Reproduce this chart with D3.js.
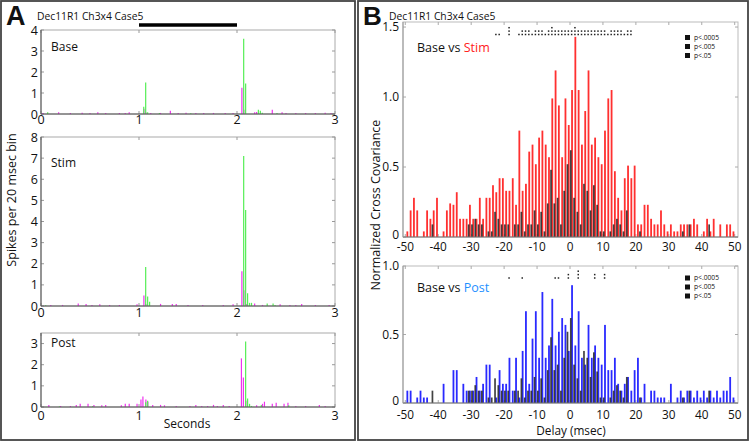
<!DOCTYPE html>
<html><head><meta charset="utf-8">
<script src="https://cdn.jsdelivr.net/npm/d3@7/dist/d3.min.js"></script>
<style>
body{margin:0;background:#fff}
svg{display:block}
text{font-family:"Open Sans",sans-serif;fill:#111}
</style>
</head><body>
<svg id="c" width="750" height="442"></svg>
<script>
// ---------------- DATA ----------------
const figTitle = "Dec11R1 Ch3x4 Case5";
const secTicks = [0, 1, 2, 3];
const stimPeriod = [1, 2];

// Panel A: spikes per 20 ms bin, [time (s), value]
const baseGreen = [[0.06,0.08],[1.04,0.35],[1.06,1.5],[1.08,0.08],[1.2,0.05],[1.52,0.04],[2.06,3.58],[2.08,1.45],[2.21,0.2],[2.23,0.15],[2.25,0.06],[2.4,0.05]];
const baseMagenta = [[0.02,0.05],[0.18,0.08],[0.3,0.05],[0.42,0.06],[0.5,0.05],[0.58,0.08],[0.66,0.05],[0.8,0.05],[0.86,0.05],[0.9,0.08],[1.05,0.25],[1.07,0.08],[1.12,0.05],[1.22,0.05],[1.32,0.15],[1.4,0.05],[1.48,0.06],[1.58,0.05],[1.66,0.05],[1.76,0.05],[1.88,0.05],[1.96,0.05],[2.05,1.25],[2.07,0.2],[2.18,0.08],[2.2,0.1],[2.36,0.2],[2.46,0.08],[2.5,0.05],[2.6,0.05],[2.7,0.05],[2.8,0.05],[2.9,0.06],[2.96,0.05]];
const stimGreen = [[0.04,0.04],[1.06,1.85],[1.08,0.45],[1.1,0.2],[2.06,7.1],[2.08,4.55],[2.1,0.6],[2.12,0.15],[2.14,0.15],[2.3,0.12],[2.36,0.12],[2.38,0.05]];
const stimMagenta = [[0.1,0.05],[0.22,0.05],[0.38,0.12],[0.46,0.1],[0.52,0.05],[0.6,0.08],[0.7,0.05],[0.8,0.05],[0.98,0.08],[1.05,0.5],[1.07,0.1],[1.22,0.1],[1.34,0.1],[1.38,0.1],[1.5,0.05],[1.65,0.05],[1.86,0.05],[1.96,0.08],[2.05,1.65],[2.07,0.75],[2.1,0.1],[2.18,0.12],[2.26,0.05],[2.44,0.08],[2.54,0.05],[2.6,0.05],[2.66,0.1],[2.8,0.05],[2.94,0.05]];
const postGreen = [[0.18,0.03],[0.52,0.05],[1.06,0.22],[1.08,0.3],[2.08,3.1],[2.1,0.4],[2.12,0.15],[2.14,0.05],[2.24,0.1],[2.52,0.08]];
const postMagenta = [[0.08,0.1],[0.2,0.05],[0.3,0.05],[0.36,0.1],[0.4,0.15],[0.48,0.15],[0.54,0.1],[0.62,0.08],[0.66,0.1],[0.82,0.08],[0.86,0.15],[0.9,0.15],[0.98,0.15],[1.02,0.35],[1.04,0.5],[1.07,0.35],[1.09,0.25],[1.14,0.1],[1.22,0.1],[1.26,0.08],[1.38,0.05],[1.52,0.05],[1.58,0.1],[1.64,0.05],[1.7,0.05],[1.76,0.1],[1.8,0.05],[1.86,0.1],[1.92,0.05],[2.045,2.3],[2.065,1.4],[2.09,0.3],[2.2,0.08],[2.26,0.15],[2.28,0.25],[2.36,0.15],[2.4,0.2],[2.48,0.15],[2.52,0.2],[2.6,0.05],[2.7,0.05],[2.84,0.1],[2.9,0.05]];

// Panel B: normalized cross covariance, delays -49.5 .. 49.5 msec
const delays = d3.range(-49.5, 50, 1);
const delayTicks = [-50,-40,-30,-20,-10,0,10,20,30,40,50];
const stimCov = [0.04,0.19,0.28,0.19,0,0.04,0.19,0.13,0.19,0.28,
  0,0.04,0.19,0.24,0.23,0.32,0.13,0.13,0.13,0.23,
  0.13,0.13,0.28,0.13,0.28,0.28,0.37,0.32,0.42,0.42,
  0.33,0.33,0.42,0.23,0.76,0.33,0.38,0.61,0.66,0.52,
  0.71,0.76,0.66,0.57,0.99,1.19,0.94,0.57,0.99,0.80,
  1.05,1.43,1.05,0.66,0.90,1.19,0.66,0.71,0.57,0.52,
  0.76,0.99,1.05,0.47,0.28,0.19,0.42,0.51,0.42,0.51,
  0.09,0.09,0.23,0.23,0.13,0.09,0.09,0.19,0.09,0.04,
  0.09,0.04,0.04,0.09,0.09,0.09,0.09,0.13,0.09,0,
  0.04,0.13,0.04,0.13,0,0.09,0,0.09,0.09,0.04];
const postCov = [0.09,0.09,0,0.04,0.09,0.04,0.04,0,0,0,
  0,0.14,0,0,0.24,0.24,0,0.14,0.09,0.09,
  0.09,0.19,0.09,0.14,0.28,0.28,0,0.04,0.24,0.14,
  0.14,0.33,0.09,0.33,0.04,0.38,0.67,0.14,0.47,0.67,
  0.33,0.81,0.33,0.42,0.76,0.42,0.52,0.62,0.57,0.38,
  0.86,0.42,0.67,0.33,0.28,0.57,0.33,0.42,0.33,0.28,
  0.57,0.24,0.24,0.33,0.14,0.09,0.14,0.19,0.09,0.24,
  0.33,0.04,0.14,0,0.09,0.09,0.04,0.04,0.04,0,
  0.14,0,0.04,0.09,0.04,0.09,0.09,0.04,0.09,0.04,
  0.09,0.04,0.09,0.04,0.09,0.04,0.09,0.09,0.19,0.04];
const baseCov = [0,0,0,0,0,0,0,0,0.09,0,
  0,0,0,0,0,0,0,0,0,0.09,
  0.09,0.13,0.09,0.09,0,0.04,0.04,0.18,0.13,0.09,
  0.09,0.09,0,0.09,0.09,0.18,0.04,0.09,0.09,0.19,
  0.09,0.18,0.04,0.24,0.48,0.24,0.28,0.09,0.33,0.52,
  0.62,0.28,0.18,0.09,0.38,0.33,0.19,0.37,0.23,0.04,
  0.04,0,0.04,0.09,0.13,0.09,0.04,0.19,0,0,
  0,0.04,0,0,0,0,0,0,0,0,
  0,0,0,0,0.04,0,0.09,0,0,0,
  0,0,0.09,0,0,0,0,0,0,0];
// significance marks [delay, number of dots]
const sigStim = [[-22.5,1],[-21.5,1],[-18.5,3],[-15.5,1],[-14.5,2],[-13.5,2],[-12.5,2],[-11.5,1],[-10.5,2],[-9.5,2],[-8.5,2],[-7.5,1],[-6.5,2],[-5.5,3],[-4.5,2],[-3.5,2],[-2.5,2],[-1.5,2],[-0.5,2],[0.5,2],[1.5,3],[2.5,2],[3.5,2],[4.5,2],[5.5,2],[6.5,2],[7.5,2],[8.5,2],[9.5,2],[10.5,2],[11.5,1],[12.5,2],[13.5,2],[14.5,2],[15.5,2],[16.5,1],[17.5,2],[18.5,2]];
const sigPost = [[-18.5,1],[-14.5,1],[-4.5,1],[-3.5,1],[-0.5,2],[2.5,3],[7.5,2],[10.5,2]];
const legendLabels = ["p<.0005","p<.005","p<.05"];

// ---------------- DRAW ----------------
const svg = d3.select("#c");
const GREEN = "#55ee55", MAG = "#ee33ee", RED = "#ff3030", BLUE = "#2a2aff";

svg.append("rect").attr("x",1).attr("y",1).attr("width",354).attr("height",439)
  .attr("fill","none").attr("stroke","#444").attr("stroke-width",1.8);
svg.append("rect").attr("x",358).attr("y",1).attr("width",390).attr("height",439)
  .attr("fill","none").attr("stroke","#444").attr("stroke-width",1.8);

svg.append("text").attr("x",6).attr("y",25).text("A")
  .style("font-family","Liberation Sans, Arial, sans-serif").style("font-weight","bold").style("font-size","27px");
svg.append("text").attr("x",363).attr("y",25).text("B")
  .style("font-family","Liberation Sans, Arial, sans-serif").style("font-weight","bold").style("font-size","26px");
svg.append("text").attr("x",37).attr("y",19.5).text(figTitle).style("font-size","10.3px");
svg.append("text").attr("x",389).attr("y",19.5).text(figTitle).style("font-size","10.3px");

// ---- Panel A ----
const xA = d3.scaleLinear().domain([0,3]).range([41,335]);
svg.append("line").attr("x1",xA(stimPeriod[0])).attr("x2",xA(stimPeriod[1]))
  .attr("y1",25).attr("y2",25).attr("stroke","#000").attr("stroke-width",3.5);

function psth(cfg){
  const y = d3.scaleLinear().domain([0,cfg.ymax]).range([cfg.bottom,cfg.top]);
  const g = svg.append("g");
  g.append("rect").attr("x",xA.range()[0]).attr("y",cfg.top)
    .attr("width",xA.range()[1]-xA.range()[0]).attr("height",cfg.bottom-cfg.top)
    .attr("fill","none").attr("stroke","#aaa").attr("stroke-width",1);
  cfg.yticks.forEach(v=>{
    g.append("line").attr("x1",xA.range()[0]).attr("x2",xA.range()[0]+3).attr("y1",y(v)).attr("y2",y(v)).attr("stroke","#999");
    g.append("line").attr("x1",xA.range()[1]-3).attr("x2",xA.range()[1]).attr("y1",y(v)).attr("y2",y(v)).attr("stroke","#999");
    g.append("text").attr("x",38).attr("y",y(v)).attr("dy","0.36em").attr("text-anchor","end")
      .style("font-size","12.5px").text(v);
  });
  secTicks.forEach(t=>{
    g.append("line").attr("x1",xA(t)).attr("x2",xA(t)).attr("y1",cfg.bottom).attr("y2",cfg.bottom-3).attr("stroke","#999");
    g.append("line").attr("x1",xA(t)).attr("x2",xA(t)).attr("y1",cfg.top).attr("y2",cfg.top+3).attr("stroke","#999");
    g.append("text").attr("x",xA(t)).attr("y",cfg.bottom+cfg.lblOff).attr("text-anchor","middle")
      .style("font-size","12.5px").text(t);
  });
  g.selectAll(".m").data(cfg.magenta).enter().append("line")
    .attr("x1",d=>xA(d[0])).attr("x2",d=>xA(d[0]))
    .attr("y1",y(0)).attr("y2",d=>y(d[1])).attr("stroke",MAG).attr("stroke-width",1.2);
  g.selectAll(".gr").data(cfg.green).enter().append("line")
    .attr("x1",d=>xA(d[0])+0.8).attr("x2",d=>xA(d[0])+0.8)
    .attr("y1",y(0)).attr("y2",d=>y(d[1])).attr("stroke",GREEN).attr("stroke-width",1.2);
  g.append("line").attr("x1",xA.range()[0]).attr("x2",xA.range()[1]).attr("y1",cfg.bottom).attr("y2",cfg.bottom).attr("stroke","#555");
  g.append("line").attr("x1",xA.range()[0]).attr("x2",xA.range()[0]).attr("y1",cfg.top).attr("y2",cfg.bottom).attr("stroke","#555");
  g.append("text").attr("x",51).attr("y",cfg.labelY).style("font-size","12px").text(cfg.label);
}
psth({top:30,bottom:114,ymax:4,yticks:[0,1,2,3,4],green:baseGreen,magenta:baseMagenta,label:"Base",labelY:51,lblOff:10});
psth({top:137,bottom:306,ymax:8,yticks:[0,1,2,3,4,5,6,7,8],green:stimGreen,magenta:stimMagenta,label:"Stim",labelY:166.5,lblOff:11});
psth({top:333,bottom:407,ymax:3.5,yticks:[0,1,2,3],green:postGreen,magenta:postMagenta,label:"Post",labelY:347,lblOff:12.5});
svg.append("text").attr("x",187).attr("y",428).attr("text-anchor","middle").style("font-size","12px").text("Seconds");
svg.append("text").attr("transform","translate(16,200) rotate(-90)").attr("text-anchor","middle")
  .style("font-size","12.5px").text("Spikes per 20 msec bin");

// ---- Panel B ----
const xB = d3.scaleLinear().domain([-51,51]).range([402,738]);
function ccPlot(cfg){
  const y = d3.scaleLinear().domain([0,cfg.ymax]).range([cfg.bottom,cfg.top]);
  const g = svg.append("g");
  g.append("rect").attr("x",403).attr("y",cfg.top).attr("width",335).attr("height",cfg.bottom-cfg.top)
    .attr("fill","none").attr("stroke","#bbb");
  delayTicks.forEach(t=>{
    g.append("line").attr("x1",xB(t)).attr("x2",xB(t)).attr("y1",cfg.bottom).attr("y2",cfg.bottom-3).attr("stroke","#aaa");
    g.append("line").attr("x1",xB(t)).attr("x2",xB(t)).attr("y1",cfg.top).attr("y2",cfg.top+3).attr("stroke","#aaa");
    g.append("text").attr("x",xB(t)).attr("y",cfg.bottom+cfg.lblOff).attr("text-anchor","middle")
      .style("font-size","11.8px").text(t);
  });
  cfg.yticks.forEach(v=>{
    g.append("line").attr("x1",403).attr("x2",406).attr("y1",y(v)).attr("y2",y(v)).attr("stroke","#aaa");
    g.append("line").attr("x1",735).attr("x2",738).attr("y1",y(v)).attr("y2",y(v)).attr("stroke","#aaa");
    g.append("text").attr("x",399).attr("y",y(v)).attr("dy",v===0?"0.2em":"0.36em").attr("text-anchor","end")
      .style("font-size","12px").text(v===0?"0":d3.format(".1f")(v));
  });
  g.selectAll(".c").data(cfg.values).enter().append("rect")
    .attr("x",(d,i)=>xB(delays[i])-0.5).attr("width",1.8)
    .attr("y",d=>y(d)).attr("height",d=>y(0)-y(d)).attr("fill",cfg.color);
  g.selectAll(".b").data(baseCov).enter().append("rect")
    .attr("x",(d,i)=>xB(delays[i])-1.7).attr("width",1.7)
    .attr("y",d=>y(d)).attr("height",d=>y(0)-y(d)).attr("fill","#222").attr("opacity",0.85);
  g.append("line").attr("x1",403).attr("x2",738).attr("y1",cfg.bottom).attr("y2",cfg.bottom).attr("stroke","#777");
  g.append("line").attr("x1",403).attr("x2",403).attr("y1",cfg.top).attr("y2",cfg.bottom).attr("stroke","#999");
  cfg.sig.forEach(s=>{
    for(let k=0;k<s[1];k++){
      g.append("rect").attr("x",xB(s[0])-0.75).attr("y",cfg.dotBase-k*3.4-0.75)
        .attr("width",1.5).attr("height",1.5).attr("fill","#222");
    }
  });
  legendLabels.forEach((l,i)=>{
    const yc = cfg.legY + i*9;
    g.append("rect").attr("x",685).attr("y",yc-2.5).attr("width",5).attr("height",5).attr("fill","#111");
    g.append("text").attr("x",694).attr("y",yc+2.4).style("font-size","6.7px").text(l);
  });
  const t = g.append("text").attr("x",417).attr("y",cfg.labelY).style("font-size","12.5px");
  t.append("tspan").text("Base vs ");
  t.append("tspan").text(cfg.label).style("fill",cfg.labelColor);
}
ccPlot({top:22,bottom:237,ymax:1.536,yticks:[0,0.5,1.0,1.5],values:stimCov,color:RED,
  sig:sigStim,dotBase:34.5,legY:37.5,label:"Stim",labelColor:"#ff2020",labelY:52,lblOff:13.5});
ccPlot({top:266,bottom:403,ymax:1.0,yticks:[0,0.5,1.0],values:postCov,color:BLUE,
  sig:sigPost,dotBase:278,legY:278,label:"Post",labelColor:"#1e90ff",labelY:292,lblOff:15.5});
svg.append("text").attr("x",571).attr("y",435).attr("text-anchor","middle").style("font-size","11.8px").text("Delay (msec)");
svg.append("text").attr("transform","translate(380,205) rotate(-90)").attr("text-anchor","middle")
  .style("font-size","12.5px").text("Normalized Cross Covariance");
</script>
</body></html>
